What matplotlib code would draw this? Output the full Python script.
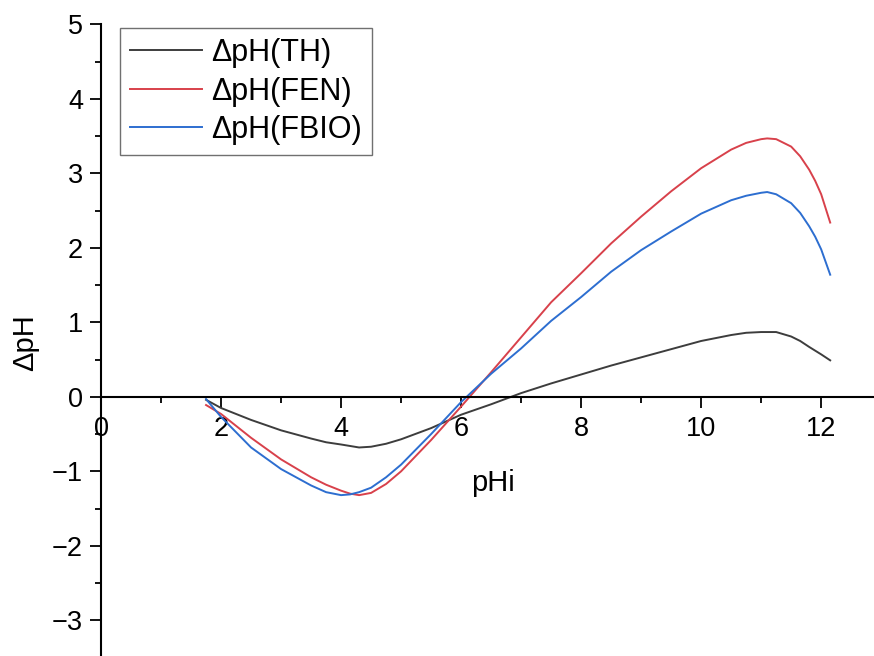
import matplotlib
matplotlib.use("Agg")
import matplotlib.pyplot as plt
from matplotlib.ticker import MultipleLocator

plt.rcParams["font.family"] = ["Liberation Sans", "DejaVu Sans"]

# values
phi = [1.75, 2.0, 2.5, 3.0, 3.5, 3.75, 4.0, 4.15, 4.3, 4.5, 4.75, 5.0, 5.5, 6.0,
       6.5, 7.0, 7.5, 8.0, 8.5, 9.0, 9.5, 10.0, 10.5, 10.75, 11.0, 11.1, 11.25,
       11.5, 11.65, 11.8, 11.9, 12.0, 12.15]
dph_th = [-0.04, -0.15, -0.31, -0.45, -0.56, -0.61, -0.64, -0.66, -0.68, -0.67,
          -0.63, -0.57, -0.42, -0.24, -0.10, 0.05, 0.18, 0.30, 0.42, 0.53, 0.64,
          0.75, 0.83, 0.86, 0.87, 0.87, 0.87, 0.81, 0.75, 0.67, 0.62, 0.57, 0.49]
dph_fen = [-0.11, -0.23, -0.55, -0.84, -1.08, -1.18, -1.26, -1.30, -1.32, -1.29,
           -1.17, -1.00, -0.58, -0.13, 0.33, 0.80, 1.27, 1.66, 2.06, 2.42, 2.76,
           3.07, 3.32, 3.41, 3.46, 3.47, 3.46, 3.36, 3.23, 3.05, 2.90, 2.72, 2.34]
dph_fbio = [-0.03, -0.27, -0.68, -0.97, -1.19, -1.28, -1.32, -1.31, -1.28, -1.22,
            -1.08, -0.91, -0.50, -0.07, 0.31, 0.65, 1.02, 1.34, 1.68, 1.97, 2.22,
            2.46, 2.64, 2.70, 2.74, 2.75, 2.72, 2.60, 2.47, 2.29, 2.15, 1.98, 1.64]

series = [
    (dph_th, "#3d3d3d", "\u0394pH(TH)"),
    (dph_fen, "#d8414b", "\u0394pH(FEN)"),
    (dph_fbio, "#2d6ed0", "\u0394pH(FBIO)"),
]

fig = plt.figure(figsize=(8.74, 6.56), dpi=100)
ax = fig.add_axes([0.1156, 0.0, 0.8844, 0.9627])

for ys, col, lab in series:
    ax.plot(phi, ys, color=col, lw=1.4, label=lab)

ax.set_xlim(0, 12.88)
ax.set_ylim(-3.48, 5)

# Origin-style axes crossing at the origin
ax.spines["left"].set_position(("data", 0))
ax.spines["bottom"].set_position(("data", 0))
ax.spines["top"].set_visible(False)
ax.spines["right"].set_visible(False)
for s in ("left", "bottom"):
    ax.spines[s].set_linewidth(1.5)

ax.xaxis.set_major_locator(MultipleLocator(2))
ax.xaxis.set_minor_locator(MultipleLocator(1))
ax.yaxis.set_major_locator(MultipleLocator(1))
ax.yaxis.set_minor_locator(MultipleLocator(0.5))
ax.tick_params(which="major", direction="out", length=8, width=1.3, labelsize=19.5)
ax.tick_params(which="minor", direction="out", length=4.5, width=1.3)
ax.tick_params(axis="x", pad=6)
ax.tick_params(axis="y", pad=5)

ax.set_xlabel("pHi", fontsize=21, va="center")
ax.xaxis.set_label_coords(0.507, 0.274)
ax.set_ylabel("\u0394pH", fontsize=21, va="center")
ax.yaxis.set_label_coords(-0.098, 0.497)

leg = ax.legend(loc="upper left", bbox_to_anchor=(0.0246, 0.9945), borderaxespad=0,
                fontsize=22, fancybox=False, framealpha=1, edgecolor="#707070",
                handlelength=2.35, handletextpad=0.3, borderpad=0.33, labelspacing=0.28)
leg.get_frame().set_linewidth(1.0)

fig.savefig("out.png", dpi=100)
